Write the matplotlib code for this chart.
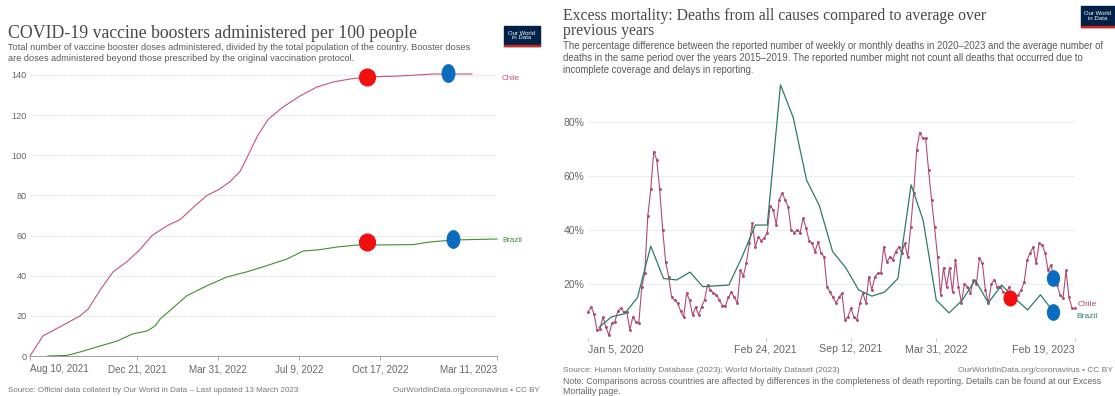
import pandas as pd
import matplotlib
matplotlib.use('Agg')
import matplotlib.pyplot as plt
from matplotlib.markers import MarkerStyle
from matplotlib.transforms import Affine2D
from matplotlib.patches import Rectangle

plt.rcParams['font.family'] = ['Liberation Sans', 'DejaVu Sans']

W, H = 1115, 396

# --- left chart: boosters per 100 people ---
boost_chile_dates = ['2021-08-10', '2021-08-26', '2021-09-16', '2021-10-11', '2021-10-21',
                     '2021-11-05', '2021-11-21', '2021-12-08', '2021-12-24', '2022-01-08',
                     '2022-01-27', '2022-02-12', '2022-02-28', '2022-03-17', '2022-04-01',
                     '2022-04-15', '2022-04-27', '2022-05-07', '2022-05-19', '2022-06-01',
                     '2022-06-19', '2022-07-10', '2022-07-31', '2022-08-20', '2022-09-10',
                     '2022-10-01', '2022-11-11', '2022-12-22', '2023-02-08']
boost_chile = [0, 10, 14.5, 20, 23.4, 33, 42, 47, 53, 60, 65, 68, 74, 80, 83,
               87, 92, 100, 110, 118, 124, 129.5, 134, 136.5, 138, 139, 139.5, 140.5, 140.5]

boost_brazil_dates = ['2021-09-01', '2021-09-25', '2021-10-11', '2021-11-05', '2021-11-26',
                      '2021-12-15', '2022-01-02', '2022-01-12', '2022-01-18', '2022-02-03',
                      '2022-02-20', '2022-03-17', '2022-04-11', '2022-05-06', '2022-05-30',
                      '2022-06-24', '2022-07-14', '2022-08-04', '2022-08-25', '2022-09-19',
                      '2022-10-13', '2022-11-27', '2022-12-18', '2023-01-16', '2023-03-11']
boost_brazil = [0, 0.3, 2, 5, 7.5, 11, 12.5, 15, 18.4, 24, 30, 35, 39.4, 42, 45,
                48.3, 52.3, 53, 54.3, 55.3, 55.3, 55.5, 56.8, 57.8, 58.3]

boost_xticks = ['2021-08-10', '2021-12-21', '2022-03-31', '2022-07-09', '2022-10-17', '2023-03-11']
boost_xlabels = ['Aug 10, 2021', 'Dec 21, 2021', 'Mar 31, 2022', 'Jul 9, 2022', 'Oct 17, 2022', 'Mar 11, 2023']
boost_yticks = [0, 20, 40, 60, 80, 100, 120, 140]

boost_red_dates = ['2022-10-01', '2022-10-01']
boost_red_vals = [139, 56.8]
boost_blue_dates = ['2023-01-09', '2023-01-15']
boost_blue_vals = [141, 58.3]

# --- right chart: excess mortality ---
mort_start = '2020-01-05'
mort_chile = [9.6, 11.5, 9, 3, 3.3, 7.8, 4, 1, 5.5, 6,
              10, 11, 9.6, 9.6, 3, 7.8, 6, 5.5, 19, 24,
              45, 55, 69, 66, 55, 40, 28, 22.6, 15, 14,
              13, 10, 7.8, 16.6, 14, 8.5, 11.5, 8.5, 11.5, 14,
              19.6, 17.8, 16.6, 16, 14, 12, 12, 15, 17, 15,
              13, 25, 23, 27.7, 35, 42.6, 33.7, 37.4, 36, 37,
              39, 49, 47.4, 42, 51, 53.7, 51, 48.5, 40, 39,
              40, 39, 44.4, 40.7, 36, 35, 32, 35.5, 31.5, 30,
              19, 17, 15, 13, 15, 16.6, 6.7, 7.8, 11, 7.8,
              6.7, 13, 16.6, 13, 22.6, 17.8, 22.6, 24, 24, 33.7,
              28, 30, 29, 32, 33.7, 31.5, 35, 30, 41, 53.7,
              69.6, 76, 74, 74, 62, 51, 41, 30, 16, 26,
              19, 26, 17, 29, 19, 13, 20, 19, 16.6, 21.5,
              20, 29.6, 27.7, 17.8, 13, 20, 21.5, 19, 19, 17,
              16.6, 19, 13, 15, 16, 17.8, 20.7, 29, 31.5, 33.7,
              27.7, 35, 34.4, 31.5, 25, 27, 21.5, 19.6, 16, 14.8,
              25, 15, 11, 11]
mort_brazil = [4, 7.8, 9, 15, 34, 22, 21.5, 24.4, 19, 19.3, 19.6, 30,
               41.8, 41.8, 93.7, 81.5, 58.5, 49, 32, 26, 17.8, 15.5, 17, 22,
               56.7, 43.7, 14, 9.3, 14, 21.5, 13, 19.6, 14.8, 10.4, 16, 9.6]

mort_xticks = ['2020-01-05', '2021-02-24', '2021-09-12', '2022-03-31', '2023-02-19']
mort_xlabels = ['Jan 5, 2020', 'Feb 24, 2021', 'Sep 12, 2021', 'Mar 31, 2022', 'Feb 19, 2023']
mort_yticks = [20, 40, 60, 80]

mort_red_dates = ['2022-09-19']
mort_red_vals = [14.8]
mort_blue_dates = ['2022-12-29', '2022-12-29']
mort_blue_vals = [22.2, 9.6]

CHILE_L = '#c4566e'
BRAZIL_L = '#3f8f2f'
CHILE_R = '#b04a78'
BRAZIL_R = '#2b7d62'
RED = '#f20f0f'
BLUE = '#0b6cbf'
SERIF = ['Liberation Serif', 'DejaVu Serif']


def px_box(x0, y0, x1, y1):
    """ Pixel box (top-left origin) to figure fraction rect. """
    return [x0 / W, 1 - y1 / H, (x1 - x0) / W, (y1 - y0) / H]


def ftext(x, y, s, **kw):
    fig.text(x / W, 1 - y / H, s, **kw)


def owid_logo(x0, y0, w, h):
    fig.patches.append(Rectangle((x0 / W, 1 - (y0 + h) / H), w / W, h / H,
                                 transform=fig.transFigure, color='#002147'))
    fig.patches.append(Rectangle((x0 / W, 1 - (y0 + h) / H), w / W, 1.5 / H,
                                 transform=fig.transFigure, color='#ce261e'))
    ftext(x0 + w / 2, y0 + h / 2 - 0.5, 'Our World\nin Data', color='white',
          fontsize=4.3, ha='center', va='center', linespacing=0.95)


def date_ticks(ax, ticks, labels):
    ax.set_xticks(pd.to_datetime(ticks))
    ax.set_xticklabels(labels)
    tl = ax.get_xticklabels()
    tl[0].set_ha('left')
    tl[-1].set_ha('right')


def oval(sx):
    return MarkerStyle('o', transform=Affine2D().scale(sx, 1.0))


fig = plt.figure(figsize=(W / 100, H / 100), dpi=100)

# ---------------- left ----------------
ax1 = fig.add_axes(px_box(30, 75, 497, 356))
ax1.plot(pd.to_datetime(boost_chile_dates), boost_chile, color=CHILE_L, lw=0.8, clip_on=False)
ax1.plot(pd.to_datetime(boost_brazil_dates), boost_brazil, color=BRAZIL_L, lw=0.8, clip_on=False)
ax1.plot(pd.to_datetime(boost_red_dates), boost_red_vals, ls='none', marker=oval(0.95),
         ms=12, color=RED, clip_on=False, zorder=5)
ax1.plot(pd.to_datetime(boost_blue_dates), boost_blue_vals, ls='none', marker=oval(0.72),
         ms=12.5, color=BLUE, clip_on=False, zorder=5)
ax1.set_xlim(pd.Timestamp('2021-08-10'), pd.Timestamp('2023-03-11'))
ax1.set_ylim(0, 140)
ax1.set_yticks(boost_yticks)
date_ticks(ax1, boost_xticks, boost_xlabels)
ax1.yaxis.grid(True, ls=(0, (2, 2)), color='#d4d4d4', lw=0.6)
ax1.set_axisbelow(True)
for s in ['top', 'right', 'left']:
    ax1.spines[s].set_visible(False)
ax1.spines['bottom'].set_color('#a0a0a0')
ax1.spines['bottom'].set_linewidth(0.7)
ax1.tick_params(axis='y', length=0, pad=2.5, labelsize=6.6, labelcolor='#666666')
ax1.tick_params(axis='x', length=3, width=0.6, color='#a0a0a0', pad=3,
                labelsize=7.1, labelcolor='#666666')

ftext(502, 79, 'Chile', color=CHILE_L, fontsize=5.8, va='center')
ftext(502, 240, 'Brazil', color=BRAZIL_L, fontsize=5.8, va='center')

ftext(8, 34, 'COVID-19 vaccine boosters administered per 100 people', family=SERIF,
      fontsize=12.8, color='#484848', va='center')
ftext(8, 47, 'Total number of vaccine booster doses administered, divided by the total population '
      'of the country. Booster doses', fontsize=6.6, color='#5a5a5a', va='center')
ftext(8, 58.5, 'are doses administered beyond those prescribed by the original vaccination protocol.',
      fontsize=6.6, color='#5a5a5a', va='center')
ftext(8, 390, 'Source: Official data collated by Our World in Data \u2013 Last updated 13 March 2023',
      fontsize=5.8, color='#777777', va='center')
ftext(540, 390, 'OurWorldInData.org/coronavirus \u2022 CC BY', fontsize=5.8, color='#777777',
      va='center', ha='right')
owid_logo(504, 26, 36, 20)

# ---------------- right ----------------
ax2 = fig.add_axes(px_box(588, 84, 1075, 338))
chile_dates = pd.date_range(mort_start, periods=len(mort_chile), freq='7D')
brazil_dates = pd.date_range('2020-01-31', periods=len(mort_brazil), freq='ME')
ax2.plot(chile_dates, mort_chile, color=CHILE_R, lw=0.8, marker='o', ms=1.1, clip_on=False)
ax2.plot(brazil_dates, mort_brazil, color=BRAZIL_R, lw=0.9, clip_on=False)
ax2.plot(pd.to_datetime(mort_red_dates), mort_red_vals, ls='none', marker=oval(0.87),
         ms=10.5, color=RED, clip_on=False, zorder=5)
ax2.plot(pd.to_datetime(mort_blue_dates), mort_blue_vals, ls='none', marker=oval(0.78),
         ms=11, color=BLUE, clip_on=False, zorder=5)
ax2.set_xlim(pd.Timestamp(mort_xticks[0]), pd.Timestamp(mort_xticks[-1]))
ax2.set_ylim(0, 94)
ax2.set_yticks(mort_yticks)
ax2.set_yticklabels(['%d%%' % v for v in mort_yticks])
date_ticks(ax2, mort_xticks, mort_xlabels)
ax2.yaxis.grid(True, color='#ececec', lw=0.7)
ax2.set_axisbelow(True)
for s in ax2.spines.values():
    s.set_visible(False)
ax2.tick_params(axis='y', length=0, pad=2.5, labelsize=7.5, labelcolor='#666666')
ax2.tick_params(axis='x', length=3, width=0.6, color='#c8c8c8', pad=1.5,
                labelsize=7.7, labelcolor='#666666')

ftext(1078, 304, 'Chile', color=CHILE_R, fontsize=6, va='center')
ftext(1076, 317, 'Brazil', color=BRAZIL_R, fontsize=6, va='center')

ftext(563, 16, 'Excess mortality: Deaths from all causes compared to average over', family=SERIF,
      fontsize=11.3, color='#484848', va='center')
ftext(563, 31, 'previous years', family=SERIF, fontsize=11.3, color='#484848', va='center')
sub = ['The percentage difference between the reported number of weekly or monthly deaths in '
       '2020\u20132023 and the average number of',
       'deaths in the same period over the years 2015\u20132019. The reported number might not '
       'count all deaths that occurred due to',
       'incomplete coverage and delays in reporting.']
for i, line in enumerate(sub):
    ftext(563, 46 + 12 * i, line, fontsize=6.95, color='#5a5a5a', va='center')
ftext(563, 370, 'Source: Human Mortality Database (2023); World Mortality Dataset (2023)',
      fontsize=6.0, color='#777777', va='center')
ftext(1113, 370, 'OurWorldInData.org/coronavirus \u2022 CC BY', fontsize=6.0, color='#777777',
      va='center', ha='right')
ftext(563, 381, 'Note: Comparisons across countries are affected by differences in the completeness '
      'of death reporting. Details can be found at our Excess', fontsize=6.3, color='#666666', va='center')
ftext(563, 392, 'Mortality page.', fontsize=6.3, color='#666666', va='center')
owid_logo(1081, 6, 34, 21)

fig.savefig('out.png', dpi=100)
